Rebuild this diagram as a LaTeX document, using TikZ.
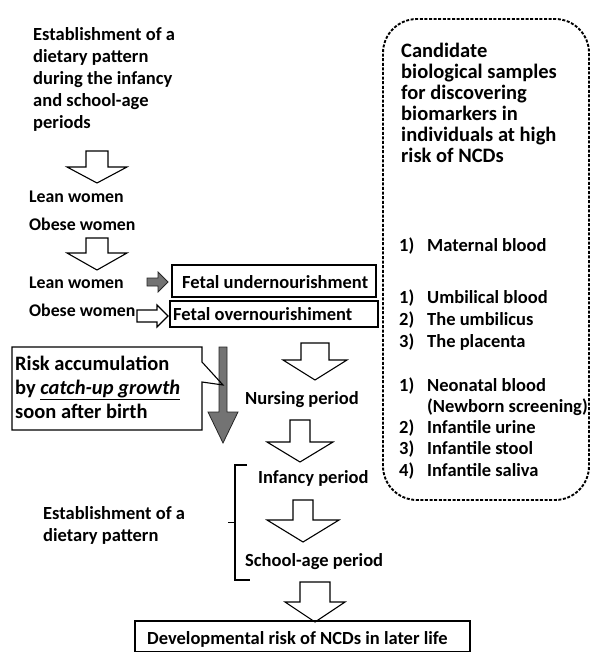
\documentclass[tikz,border=0pt]{standalone}
\usepackage{fontspec}
\setmainfont{Carlito}
\newcommand{\blockdown}[6]{% cx, top, shoulder, tip, stem half width, head half width
  \draw[hollow] ({#1-#5},#2) -- ({#1+#5},#2) -- ({#1+#5},#3) -- ({#1+#6},#3) -- (#1,#4) -- ({#1-#6},#3) -- ({#1-#5},#3) -- cycle;}
\newcommand{\numitem}[2]{\hbox{\makebox[28pt][l]{#1}#2}}
\begin{document}
\begin{tikzpicture}[x=1pt,y=-1pt,
  txt/.style={inner sep=0pt, anchor=base west, font=\bfseries\fontsize{18.5}{22}\selectfont},
  lefttxt/.style={inner sep=0pt, anchor=base west, font=\bfseries\fontsize{17.8}{22}\selectfont},
  bigtxt/.style={inner sep=0pt, anchor=base west, font=\bfseries\fontsize{20.5}{24}\selectfont},
  hollow/.style={draw=black, line width=1.1pt, fill=white, line join=miter},
  dark/.style={draw=black!85, line width=0.8pt, fill=black!55, line join=miter},
  boxed/.style={draw=black, line width=1.1pt},
  dashedbox/.style={draw=black, line width=1.9pt, dash pattern=on 3pt off 1.6pt, rounded corners=34pt}]
\useasboundingbox (0,0) rectangle (591,652);

% top left text
\node[txt] (intro) at (33,41) {\vtop{\hbox{Establishment of a}\hbox{dietary pattern}\hbox{during the infancy}\hbox{and school-age}\hbox{periods}}};
\blockdown{97}{151}{167}{183}{11}{30}
\node[lefttxt] (lean1) at (29,203) {Lean women};
\node[lefttxt] (obese1) at (29,230) {Obese women};
\blockdown{97}{238}{253}{270}{11}{30}
\node[lefttxt] (lean2) at (29,288) {Lean women};
\node[lefttxt] (obese2) at (29,316) {Obese women};

% fetal boxes
\draw[boxed] (172,265) rectangle (376,297);
\node[txt] (under) at (182,288) {Fetal undernourishment};
\draw[boxed] (170,301) rectangle (378,327);
\node[txt] (over) at (173,320) {Fetal overnourishiment};

% horizontal arrows
\draw[dark] (147,278) -- (158,278) -- (158,272) -- (168,282) -- (158,292) -- (158,286) -- (147,286) -- cycle;
\draw[hollow] (137,310) -- (157,310) -- (157,305) -- (168,316) -- (157,327) -- (157,322) -- (137,322) -- cycle;

% dark vertical arrow and callout
\draw[dark] (219,347) -- (227,347) -- (227,412) -- (238,412) -- (223,443) -- (208,412) -- (219,412) -- cycle;
\draw[boxed] (12,347) -- (202,347) -- (202,362) -- (223,385) -- (202,382) -- (202,430) -- (12,430) -- cycle;
\node[bigtxt] (risk) at (15,370) {\vtop{\hbox{Risk accumulation}\hbox{by \underline{\textit{catch-up growth}}}\hbox{soon after birth}}};

% right column of periods
\blockdown{315}{343}{360}{380}{14}{32}
\node[txt] (nursing) at (245,404) {Nursing period};
\blockdown{300}{420}{442}{462}{10}{33}
\node[txt] (infancy) at (258,483) {Infancy period};
\blockdown{303}{500}{520}{542}{10}{36}
\node[txt] (school) at (245,566) {School-age period};

% bracket
\draw[line width=1.4pt] (247,465) -- (235,465) -- (235,580) -- (250,580);
\draw[line width=1pt] (235,522) -- (228,522);
\node[txt] (estab) at (43,519) {\vtop{\hbox{Establishment of a}\hbox{dietary pattern}}};

% bottom
\blockdown{315}{582}{602}{622}{15}{30}
\draw[boxed] (135,621) rectangle (470,652);
\node[txt] (devel) at (147,644) {Developmental risk of NCDs in later life};

% dashed candidate box
\draw[dashedbox] (383,500) -- (383,19) -- (589,19) -- (589,500) -- cycle;
\node[bigtxt, font=\bfseries\fontsize{20.5}{21}\selectfont] (cand) at (401,58) {\vtop{\hbox{Candidate}\hbox{biological samples}\hbox{for discovering}\hbox{biomarkers in}\hbox{individuals at high}\hbox{risk of NCDs}}};
\node[txt] (maternal) at (399,251) {\numitem{1)}{Maternal blood}};
\node[txt, font=\bfseries\fontsize{18.5}{22}\selectfont] (umb) at (399,303) {\vtop{\numitem{1)}{Umbilical blood}\numitem{2)}{The umbilicus}\numitem{3)}{The placenta}}};
\node[txt, font=\bfseries\fontsize{18.5}{21.3}\selectfont] (neo) at (399,391) {\vtop{\numitem{1)}{Neonatal blood}\numitem{}{(Newborn screening)}\numitem{2)}{Infantile urine}\numitem{3)}{Infantile stool}\numitem{4)}{Infantile saliva}}};
\end{tikzpicture}
\end{document}
